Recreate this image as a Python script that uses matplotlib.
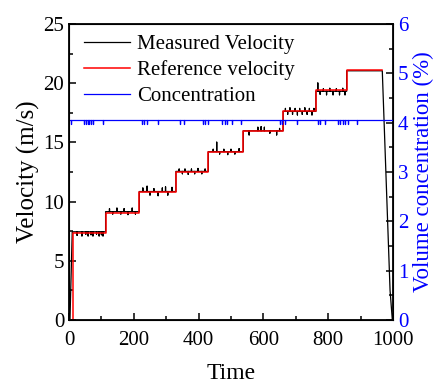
import numpy as np
import matplotlib.pyplot as plt

plt.rcParams['font.family'] = ['Liberation Serif', 'DejaVu Serif']
plt.rcParams['mathtext.fontset'] = 'stix'

# 参考速度阶梯 (起始时间, 速度)
step_t = [0, 12, 113, 217, 330, 430, 538, 661, 762, 857]
ref_v = [0, 7.37, 9.06, 10.78, 12.47, 14.2, 15.96, 17.65, 19.4, 21.1]
ref_end = 965

# 实测速度：各阶梯水平 + 毛刺
meas_v = [0, 7.45, 9.15, 10.85, 12.55, 14.22, 15.98, 17.62, 19.32, 21.05]
spike_t = [25, 40, 52, 59, 68, 74, 85, 93, 100, 105,
           125, 135, 148, 160, 170, 182, 195, 205,
           228, 241, 250, 262, 275, 288, 298, 305, 318,
           340, 350, 358, 368, 378, 388, 398, 410, 420,
           445, 456, 465, 478, 490, 500, 512, 525,
           556, 583, 593, 603, 620, 641, 650,
           668, 675, 682, 690, 698, 705, 712, 720, 728, 735, 742, 750, 756,
           768, 775, 785, 795, 805, 815, 825, 835, 845, 852]
spike_dv = [-0.3, -0.35, -0.2, -0.35, -0.25, -0.35, -0.2, -0.35, -0.25, -0.35,
            0.25, -0.2, 0.3, -0.2, 0.25, -0.25, 0.3, -0.2,
            0.3, 0.45, -0.3, 0.25, -0.35, 0.3, 0.4, -0.3, 0.35,
            0.2, -0.2, 0.2, -0.25, 0.2, -0.2, 0.25, -0.2, 0.2,
            0.2, 0.8, -0.2, 0.2, -0.25, 0.2, -0.2, 0.25,
            -0.35, 0.3, 0.35, 0.3, -0.2, -0.35, 0.2,
            0.25, -0.25, 0.3, -0.25, 0.25, -0.3, 0.25, -0.25, 0.3, -0.25, 0.25, -0.3, 0.25,
            0.7, -0.25, 0.2, -0.3, 0.25, -0.3, 0.2, -0.3, 0.25, -0.3]
drop_t = [967, 991, 998]
drop_v = [21.05, 2.5, 0]

# 体积浓度
conc_level = 4.05
conc_dip_t = [6, 46, 52, 58, 63, 68, 74, 104, 224, 232, 241, 275, 343, 355,
              414, 421, 429, 472, 480, 487, 502, 530, 651, 658, 667, 703,
              768, 774, 790, 830, 838, 845, 852, 861, 888]
conc_dip = 0.08

# 组装实测速度曲线
mt = [0, 3]
mv = [0, 0]
for i in range(1, len(step_t)):
    t0 = step_t[i] - 2 if i == 1 else step_t[i]
    t1 = step_t[i + 1] if i + 1 < len(step_t) else drop_t[0]
    lvl = meas_v[i]
    mt.append(t0)
    mv.append(lvl)
    for st, dv in zip(spike_t, spike_dv):
        if t0 < st < t1:
            mt += [st, st, st]
            mv += [lvl, lvl + dv, lvl]
    mt.append(t1)
    mv.append(lvl)
mt += drop_t[1:]
mv += drop_v[1:]

ct = [0]
cv = [conc_level]
for t in conc_dip_t:
    ct += [t, t, t]
    cv += [conc_level, conc_level - conc_dip, conc_level]
ct.append(1000)
cv.append(conc_level)

fig = plt.figure(figsize=(4.35, 3.83), dpi=100)
ax = fig.add_axes([0.1586, 0.1645, 0.7448, 0.7728])
l1, = ax.plot(mt, mv, color='black', lw=0.9, label='Measured Velocity')
l2, = ax.step(step_t + [ref_end], ref_v + [ref_v[-1]], where='post',
              color='red', lw=1.1, label='Reference velocity')
ax.set_xlim(0, 1000)
ax.set_ylim(0, 25)
ax.set_xticks(np.arange(0, 1001, 200))
ax.set_xticks(np.arange(0, 1001, 100), minor=True)
ax.set_yticks(np.arange(0, 26, 5))
ax.set_yticks(np.arange(0, 26, 2.5), minor=True)
ax.tick_params(which='both', direction='in', width=1.1, labelsize=15)
ax.tick_params(which='major', length=5)
ax.tick_params(which='minor', length=3)
ax.tick_params(axis='x', pad=8)
ax.set_xlabel('Time', fontsize=17, labelpad=9)
ax.set_ylabel('Velocity (m/s)', fontsize=18, labelpad=2)
for s in ax.spines.values():
    s.set_linewidth(1.3)

ax2 = ax.twinx()
l3, = ax2.plot(ct, cv, color='blue', lw=0.9, label='Concentration')
ax2.set_ylim(0, 6)
ax2.set_yticks(np.arange(0, 7, 1))
ax2.set_yticks(np.arange(0, 6.1, 0.5), minor=True)
ax2.tick_params(which='both', direction='in', width=1.1, labelsize=15, labelcolor='blue')
ax2.tick_params(which='major', length=5)
ax2.tick_params(which='minor', length=3)
ax2.set_ylabel('Volume concentration (%)', fontsize=16.5, color='blue', labelpad=3)

ax.legend([l1, l2, l3], ['Measured Velocity', 'Reference velocity', 'Concentration'],
          loc='upper left', bbox_to_anchor=(0.015, 1.0), frameon=False, fontsize=15,
          handlelength=2.2, handletextpad=0.35, labelspacing=0.3, borderaxespad=0.1)

fig.savefig('out.png', dpi=100)
